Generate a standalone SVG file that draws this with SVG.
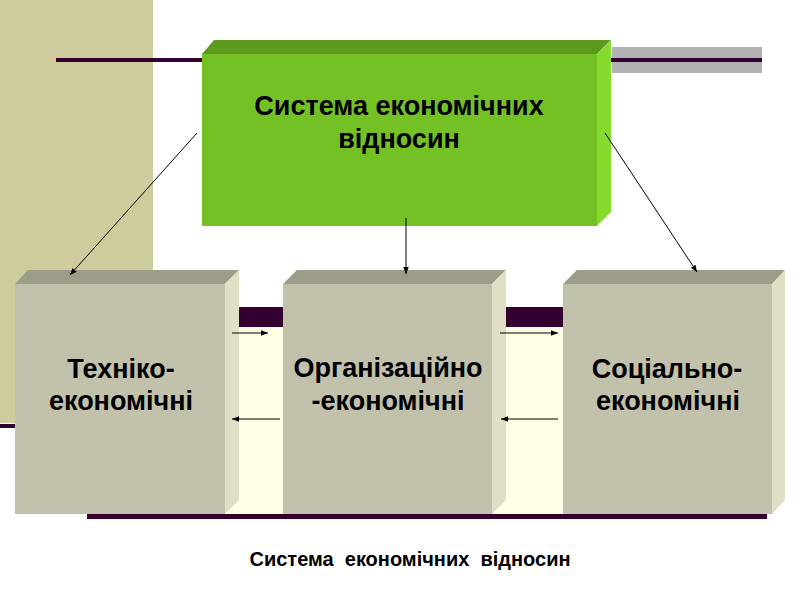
<svg xmlns="http://www.w3.org/2000/svg" width="800" height="600" viewBox="0 0 800 600">
<defs>
<style>
.t{font-family:"Liberation Sans",Arial,sans-serif;font-weight:bold;fill:#000;text-anchor:middle}
.big{font-size:27px}
.bx{font-size:27px}
.cap{font-size:20px}
.front{fill:#C2C1AB}
.top{fill:#9C9C88}
.side{fill:#E0DFC6}
.gfront{fill:#74C126}
.gtop{fill:#5B9A1F}
.gside{fill:#86DC2C}
.ln{stroke:#000;stroke-width:1;fill:none}
</style>
<marker id="ah" viewBox="0 0 10 10" refX="10" refY="5" markerWidth="7" markerHeight="7" orient="auto" markerUnits="userSpaceOnUse">
<path d="M0,1 L10,5 L0,9 z" fill="#000"/>
</marker>
</defs>
<rect width="800" height="600" fill="#fff"/>
<!-- background decorations -->
<rect x="0" y="0" width="153" height="423" fill="#CECC9C"/>
<rect x="0" y="424" width="60" height="4" fill="#33002F"/>
<rect x="56" y="58" width="150" height="4" fill="#33002F"/>
<rect x="612" y="47" width="150" height="26" fill="#B2B2B2"/>
<rect x="605" y="58" width="157" height="4" fill="#33002F"/>
<rect x="225" y="307" width="542" height="20" fill="#33002F"/>
<rect x="225" y="327" width="542" height="187" fill="#FFFFE6"/>
<rect x="87" y="514" width="680" height="5" fill="#33002F"/>

<g id="top-node">
<polygon class="gtop" points="202,54 214,40 611,40 597,54"/>
<polygon class="gside" points="597,54 611,40 611,212 597,226"/>
<rect class="gfront" x="202" y="54" width="395" height="172"/>
<text class="t big" x="399" y="115">Система економічних</text>
<text class="t big" x="399" y="148">відносин</text>
</g>

<g id="node-tech">
<polygon class="top" points="15,284 28,270 239,270 225,284"/>
<polygon class="side" points="225,284 239,270 239,500 225,514"/>
<rect class="front" x="15" y="284" width="210" height="230"/>
<text class="t bx" x="121" y="378">Техніко-</text>
<text class="t bx" x="121" y="410">економічні</text>
</g>

<g id="node-org">
<polygon class="top" points="283,284 297,270 506,270 492,284"/>
<polygon class="side" points="492,284 506,270 506,500 492,514"/>
<rect class="front" x="283" y="284" width="209" height="230"/>
<text class="t bx" x="388" y="377">Організаційно</text>
<text class="t bx" x="388" y="410">-економічні</text>
</g>

<g id="node-soc">
<polygon class="top" points="563,284 577,270 785,270 772,284"/>
<polygon class="side" points="772,284 785,270 785,500 772,514"/>
<rect class="front" x="563" y="284" width="209" height="230"/>
<text class="t bx" x="667" y="378">Соціально-</text>
<text class="t bx" x="668" y="410">економічні</text>
</g>

<g id="connectors">
<line class="ln" x1="197" y1="133" x2="70" y2="275" marker-end="url(#ah)"/>
<line class="ln" x1="406" y1="218" x2="406" y2="274" marker-end="url(#ah)"/>
<line class="ln" x1="605" y1="133" x2="697" y2="272" marker-end="url(#ah)"/>
<line class="ln" x1="232" y1="333" x2="268" y2="333" marker-end="url(#ah)"/>
<line class="ln" x1="500" y1="333" x2="558" y2="333" marker-end="url(#ah)"/>
<line class="ln" x1="280" y1="419" x2="232" y2="419" marker-end="url(#ah)"/>
<line class="ln" x1="558" y1="419" x2="501" y2="419" marker-end="url(#ah)"/>
</g>

<text class="t cap" x="410" y="566" xml:space="preserve">Система  економічних  відносин</text>
</svg>
